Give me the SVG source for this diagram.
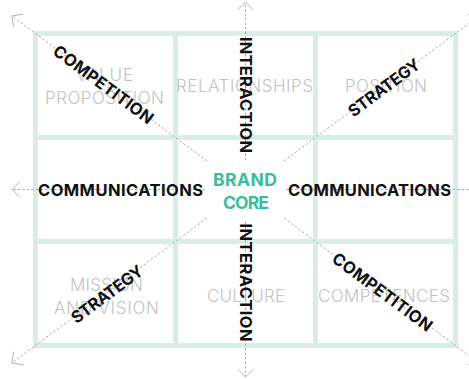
<svg xmlns="http://www.w3.org/2000/svg" width="469" height="379" viewBox="0 0 469 379">
  <defs>
    <style>
      .grid { fill: none; stroke: #d9ede6; stroke-width: 5; }
      .axis { fill: none; stroke: #ababab; stroke-width: 1; stroke-dasharray: 2.5 2; marker-end: url(#chev); }
      .cell { font-family: Inter, "Open Sans", "Liberation Sans", sans-serif; font-weight: 300; font-size: 17px; fill: #c3c3c3; text-anchor: middle; }
      .force { font-family: Inter, "Liberation Sans", sans-serif; font-weight: 700; font-size: 16.5px; fill: #111111; text-anchor: middle; }
      .core { font-family: Inter, "Liberation Sans", sans-serif; font-weight: 700; font-size: 17.5px; fill: #3bbd9d; text-anchor: middle; }
    </style>
    <marker id="chev" viewBox="-12 -12 24 24" markerWidth="24" markerHeight="24" refX="0" refY="0" orient="auto" markerUnits="userSpaceOnUse">
      <path d="M-8,-8 L0,0 L-8,8" fill="none" stroke="#b5b5b5" stroke-width="1"/>
    </marker>
  </defs>

  <!-- 3x3 grid -->
  <g id="grid">
    <rect class="grid" x="35.5" y="33.5" width="420" height="312"/>
    <line class="grid" x1="175.5" y1="33.5" x2="175.5" y2="345.5"/>
    <line class="grid" x1="315.5" y1="33.5" x2="315.5" y2="345.5"/>
    <line class="grid" x1="35.5" y1="137.5" x2="455.5" y2="137.5"/>
    <line class="grid" x1="35.5" y1="241.5" x2="455.5" y2="241.5"/>
  </g>

  <!-- cell labels -->
  <g id="value-proposition">
    <text class="cell" x="104.5" y="81" textLength="57" lengthAdjust="spacing">VALUE</text>
    <text class="cell" x="104.5" y="104" textLength="119" lengthAdjust="spacing">PROPOSITION</text>
  </g>
  <g id="relationships">
    <text class="cell" x="244.5" y="92" textLength="137" lengthAdjust="spacing">RELATIONSHIPS</text>
  </g>
  <g id="position">
    <text class="cell" x="386" y="92" textLength="82" lengthAdjust="spacing">POSITION</text>
  </g>
  <g id="mission-vision">
    <text class="cell" x="106.5" y="291" textLength="73" lengthAdjust="spacing">MISSION</text>
    <text class="cell" x="106.5" y="314" textLength="105" lengthAdjust="spacing">AND VISION</text>
  </g>
  <g id="culture">
    <text class="cell" x="246" y="302" textLength="78" lengthAdjust="spacing">CULTURE</text>
  </g>
  <g id="competences">
    <text class="cell" x="384" y="302" textLength="132" lengthAdjust="spacing">COMPETENCES</text>
  </g>

  <!-- dashed axes radiating from the core -->
  <g id="connectors">
    <path class="axis" d="M245.5,160 L245.5,2"/>
    <path class="axis" d="M245.5,222 L245.5,377"/>
    <path class="axis" d="M205,189.5 L12,189.5"/>
    <path class="axis" d="M286,189.5 L478,189.5"/>
    <path class="axis" d="M207,160.9 L11.9,16"/>
    <path class="axis" d="M284,160.9 L479.1,16"/>
    <path class="axis" d="M207,218.1 L11.9,363"/>
    <path class="axis" d="M284,218.1 L479.1,363"/>
  </g>

  <!-- centre -->
  <g id="brand-core">
    <text class="core" x="245" y="185.5" textLength="64" lengthAdjust="spacing">BRAND</text>
    <text class="core" x="246" y="209" textLength="46" lengthAdjust="spacing">CORE</text>
  </g>

  <!-- axis labels -->
  <g id="communications-left">
    <text class="force" x="120.5" y="195.5" textLength="165" lengthAdjust="spacing">COMMUNICATIONS</text>
  </g>
  <g id="communications-right">
    <text class="force" x="369.5" y="195.5" textLength="163" lengthAdjust="spacing">COMMUNICATIONS</text>
  </g>
  <g id="interaction-top">
    <text class="force" transform="translate(245.5,95) rotate(90)" x="0" y="6" textLength="116" lengthAdjust="spacing">INTERACTION</text>
  </g>
  <g id="interaction-bottom">
    <text class="force" transform="translate(245.5,282.5) rotate(90)" x="0" y="6" textLength="118" lengthAdjust="spacing">INTERACTION</text>
  </g>
  <g id="competition-top">
    <text class="force" transform="translate(103.5,84.5) rotate(36.6)" x="0" y="6" textLength="120" lengthAdjust="spacing">COMPETITION</text>
  </g>
  <g id="strategy-top">
    <text class="force" transform="translate(384,87.5) rotate(-36.6)" x="0" y="6" textLength="85" lengthAdjust="spacing">STRATEGY</text>
  </g>
  <g id="strategy-bottom">
    <text class="force" transform="translate(107,294) rotate(-36.6)" x="0" y="6" textLength="85" lengthAdjust="spacing">STRATEGY</text>
  </g>
  <g id="competition-bottom">
    <text class="force" transform="translate(382.5,292) rotate(36.6)" x="0" y="6" textLength="120" lengthAdjust="spacing">COMPETITION</text>
  </g>
</svg>
